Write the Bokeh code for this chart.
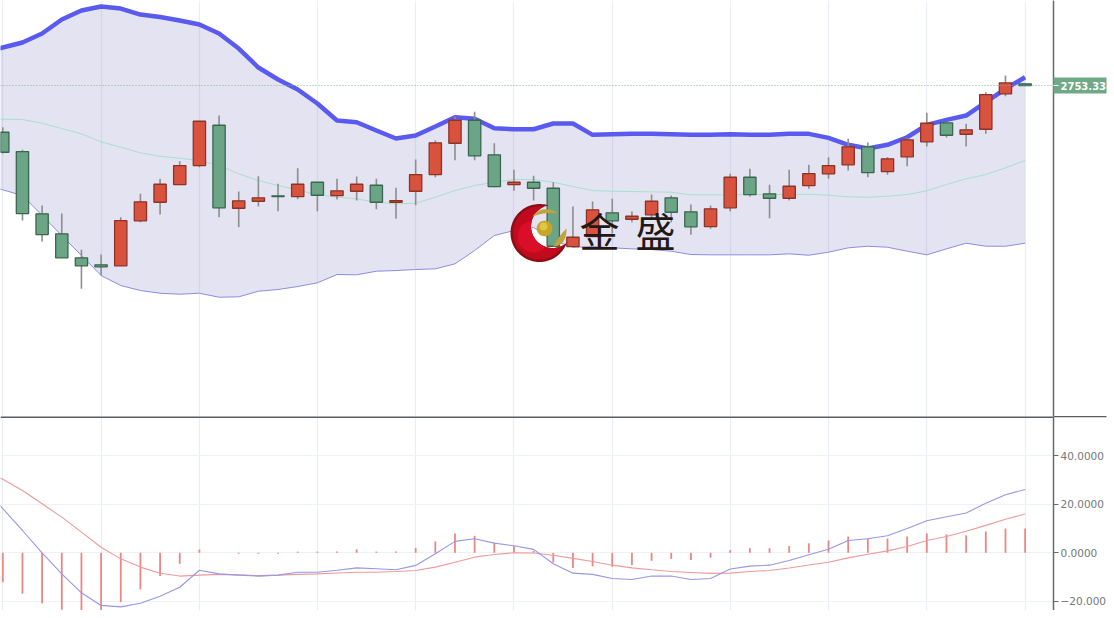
import numpy as np
from bokeh.embed import file_html
from bokeh.resources import INLINE
from bokeh.layouts import column
from bokeh.models import ColumnDataSource, FixedTicker, Grid, Label, Range1d, Span
from bokeh.plotting import figure

opens = [2706.6,2687.3,2625,2605,2581,2574,2573,2618,2636.6,2654.3,2673.3,2713.6,2630.6,2637.6,2643,2642.3,2656.6,2643.3,2647.6,2653.6,2636.6,2647.6,2664.3,2695.6,2718.6,2684,2654.3,2656.6,2650.6,2592.3,2602.3,2626,2619.6,2624,2641,2627,2612.3,2631,2661.6,2645,2640.6,2653.3,2665,2674,2692,2667.3,2682,2697,2716,2704.6,2709.6,2745,2755]
closes = [2686.6,2625.3,2604.3,2581,2573,2572,2618.3,2637,2654.6,2673.3,2717.6,2631,2638,2641,2642.3,2654.6,2643.6,2648,2654.6,2636.6,2638.3,2664.3,2696,2718.6,2683,2652.3,2656.6,2650.6,2592.6,2601.6,2629,2618,2622.6,2637.6,2626.6,2612,2630,2661.6,2644.3,2640.6,2652.6,2665.3,2673.3,2692,2666.3,2680,2699,2715.6,2703.6,2709,2744.3,2756,2753.33]
highs = [2711.6,2689,2633.3,2625.3,2589,2584.3,2621.6,2645,2660,2677.6,2717.6,2723.3,2647.3,2662.6,2655,2670.6,2656.6,2660,2662.3,2660,2651,2679.3,2698.3,2722.3,2727,2695.6,2669,2663,2656.6,2632.3,2637.3,2640,2627.3,2644.3,2643.3,2634.3,2633.3,2665,2670,2654,2669,2674,2681.6,2700,2696.3,2681.6,2701,2726,2717,2715,2746.6,2763.3,2755]
lows = [2685.3,2618.3,2597.3,2581,2550,2563.3,2573,2616.6,2624.3,2654.3,2671.6,2621.6,2611.6,2632.3,2627.6,2639.6,2627.6,2639.3,2638.3,2629.6,2620,2633.6,2661.6,2678.6,2678.6,2651.6,2648,2638.3,2592.6,2591.6,2602.3,2605.3,2616.6,2620,2616.6,2604,2610,2627.6,2642.3,2620.6,2638.3,2650,2660,2668.3,2661.6,2664,2672.6,2692.3,2701.3,2692.3,2705,2742.6,2753.33]
# the line series start one bar before the first candle, which sits at the left edge
band_upper = [2787.3,2791.3,2796.3,2805.3,2819.3,2828.3,2832.3,2830.3,2824.3,2821.8,2818.3,2814.3,2805.3,2790.3,2771.3,2759.3,2749.3,2735.3,2718.3,2716.6,2708.3,2700.3,2703.3,2712.3,2721.6,2720,2710.6,2709.6,2709.6,2715.3,2715.3,2704,2704.6,2705,2705,2704.6,2704,2704,2704.6,2704,2704,2705,2705,2701,2694,2690.3,2694,2701.6,2714,2719,2723.3,2736.6,2750,2761.6]
band_middle = [2719.8,2719.6,2719.3,2715.6,2710.3,2705,2697,2691.6,2686,2682.6,2680.6,2678.3,2673.3,2665,2658.3,2653.3,2649,2644,2641.6,2640,2636.6,2635,2635.6,2641.6,2648.3,2653.3,2656.6,2659.3,2659.3,2656.6,2652.3,2648.3,2647.6,2647.3,2647,2646.6,2644,2644,2644,2644.3,2644.3,2644.3,2644.6,2643.6,2642,2641.6,2642.6,2644.3,2648,2654.3,2660,2664.3,2671,2678.3]
band_lower = [2655,2649,2643.3,2623.3,2603.3,2583.3,2563.3,2553.3,2548.3,2545.6,2544.6,2545.6,2541.6,2542,2547.6,2549.3,2552.3,2556,2564.3,2564,2567.6,2568.3,2569.3,2570,2575,2588.3,2603.3,2608.3,2611.3,2598.3,2591.6,2592.3,2591,2590,2589.3,2587.6,2584.3,2584,2584,2584,2584,2585,2583.6,2586.6,2591,2592.6,2591.6,2587.6,2584,2590,2595.6,2592.6,2592.6,2595.6]
macd_hist = [-12.1,-16.9,-20.8,-23.5,-25.2,-24.8,-20.4,-15.1,-9.6,-4.5,1.4,0,-0.4,-0.4,-0.4,0.5,0.5,0.5,1.4,0.5,0.5,2,4.7,8,7,4.1,2.8,0.8,-4,-6.3,-5.6,-5.8,-5,-3.3,-2.5,-3,-2,1.1,1.9,1.9,2.8,3.9,5.1,6.7,5.9,5.9,6.7,8,7.6,7.2,8.8,10,10]
macd_line = [27.2,18.2,9.2,0,-8.7,-16.5,-21.7,-22.3,-20.8,-17.9,-14.2,-7.2,-8.7,-9.2,-9.6,-9.2,-8,-8,-7.2,-6.2,-6.6,-7,-5.2,-0.4,4.7,5.8,4,2.9,1.4,-4.5,-8.4,-8.9,-10.6,-11,-9.6,-9.6,-11,-10.6,-6.7,-5.5,-5.1,-3.2,-0.8,1.5,5.1,5.8,7,10,13.2,14.9,16.4,20.4,23.9,26.1]
signal_line = [34.6,30.3,25.7,20.2,14.7,8.5,2.3,-2.5,-5.9,-8.4,-9.6,-9.2,-8.9,-9.1,-9.4,-9.2,-8.9,-8.7,-8.3,-8,-8,-7.7,-7.3,-5.9,-3.9,-1.8,-0.7,0,-0.1,-1,-2.3,-3.6,-5.1,-6.2,-7,-7.7,-8.1,-8.5,-8.4,-7.7,-7.3,-6.3,-5,-3.9,-2.1,-0.6,0.8,2.6,5.1,6.7,8.9,11.3,13.8,16]
grid_bars = [0,5,10,16,21,26,31,37,42,47,52]
last_price = 2753.33
macd_ticks = [-20,0,20,40]
macd_tick_labels = {-20:"\u221220.000",0:"0.0000",20:"20.0000",40:"40.0000"}
logo_chars = ["金", "盛"]

RED, RED_EDGE = "#d9523e", "#8c3328"
GREEN, GREEN_EDGE = "#6ba585", "#38664f"
TAG = "#6fa987"
n = len(opens)
idx = list(range(n))
line_idx = [-1] + idx
X0, DX = 2.3, 19.66
PY = 2838.33

x_start, x_end = (0 - X0) / DX, (1053 - X0) / DX

def make_fig(h, y0, y1):
    p = figure(width=1106, height=h, frame_width=1053, frame_height=h,
               x_range=Range1d(x_start, x_end), y_range=Range1d(y0, y1),
               x_axis_location=None, y_axis_location="right",
               output_backend="svg", toolbar_location=None,
               min_border=0, min_border_right=53, outline_line_color=None,
               background_fill_color="white", border_fill_color="white")
    p.grid.visible = False
    p.add_layout(Grid(dimension=0, ticker=FixedTicker(ticks=grid_bars),
                      grid_line_color="#e9eef5", grid_line_width=1.2))
    ax = p.yaxis[0]
    ax.axis_line_color = "#666a70"
    ax.axis_line_width = 1.5
    ax.major_tick_in = 0
    ax.minor_tick_in = 0
    return p

# ---------- price pane
p1 = make_fig(416, PY - 416, PY)
p1.varea(line_idx, band_lower, band_upper, fill_color="#8080c0", fill_alpha=0.22)
p1.line(line_idx, band_middle, line_color="#a9dfcd", line_width=1)
p1.line(line_idx, band_lower, line_color="#8c8ce0", line_width=1)
p1.line(line_idx, band_upper, line_color="#5a5af0", line_width=4.5)
p1.add_layout(Span(location=last_price, dimension="width", line_color="#7fb596",
                   line_width=1, line_dash="1 2"))

def cs(up):
    ii = [i for i in idx if (closes[i] >= opens[i]) == up]
    return ColumnDataSource(dict(
        x=ii, o=[opens[i] for i in ii], c=[closes[i] for i in ii],
        h=[highs[i] for i in ii], l=[lows[i] for i in ii]))

for up, fill, edge in ((True, RED, RED_EDGE), (False, GREEN, GREEN_EDGE)):
    src = cs(up)
    p1.segment("x", "h", "x", "l", source=src, line_color="#8e8e8e", line_width=1.6)
    p1.vbar("x", 0.625, "o", "c", source=src, fill_color=fill, line_color=edge, line_width=1.3)

# watermark logo: position helpers in page pixels
def lx(a): return (np.asarray(a, float) - X0) / DX
def ly(a): return PY - np.asarray(a, float)

def crescent(cx, cy, R, dx, dy, r):
    d = np.hypot(dx - cx, dy - cy)
    di = np.arctan2(dy - cy, dx - cx)
    a = np.arccos((d*d + R*R - r*r) / (2*d*R))
    b = np.arccos((d*d + r*r - R*R) / (2*d*r))
    t1 = np.linspace(di + a, di + 2*np.pi - a, 90)
    t2 = np.linspace(di + np.pi + b, di + np.pi - b, 70)
    return (np.r_[cx + R*np.cos(t1), dx + r*np.cos(t2)],
            np.r_[cy + R*np.sin(t1), dy + r*np.sin(t2)])

def leaf(a, b, c1, c2):
    t = np.linspace(0, 1, 30)
    def q(p, m, e): return (1-t)**2*p + 2*t*(1-t)*m + t*t*e
    xs = np.r_[q(a[0], c1[0], b[0]), q(b[0], c2[0], a[0])]
    ys = np.r_[q(a[1], c1[1], b[1]), q(b[1], c2[1], a[1])]
    return xs, ys

for (R, col) in ((29, "#8f0d17"), (26.5, "#c10a1e")):
    xs, ys = crescent(539, 232.5, R, 552, 226, 21.5)
    p1.patch(lx(xs), ly(ys), fill_color=col, line_color=None)
xs, ys = crescent(533, 236, 16, 552, 226, 21.5)
p1.patch(lx(xs), ly(ys), fill_color="#d80f26", line_color=None)
for a, b, c1, c2 in (((532, 216), (558, 213), (542, 203), (546, 211)),
                     ((553, 246), (566, 228), (566, 245), (558, 236))):
    xs, ys = leaf(a, b, c1, c2)
    p1.patch(lx(xs), ly(ys), fill_color="#c2a33a", line_color=None)
t = np.linspace(0, 2*np.pi, 50)
p1.patch(lx(544 + 7.8*np.cos(t)), ly(228 + 7.8*np.sin(t)), fill_color="#c7a526", line_color=None)
p1.patch(lx(543 + 4*np.cos(t)), ly(226 + 4*np.sin(t)), fill_color="#e0c548", line_color=None)
for ch, sx in zip(logo_chars, (579, 635)):
    p1.add_layout(Label(x=sx, x_units="screen", y=float(ly(258)), y_units="data", text=ch,
                        text_font="Noto Sans CJK SC", text_font_size="40px", text_color="#231815"))

# current price tag: the axis tick is the green tag, its label the price
ax1 = p1.yaxis[0]
ax1.ticker = FixedTicker(ticks=[last_price], minor_ticks=[last_price])
ax1.major_tick_out = 53
ax1.major_tick_line_color = TAG
ax1.major_tick_line_width = 16
ax1.minor_tick_out = 5
ax1.minor_tick_line_color = "white"
ax1.minor_tick_line_width = 1
ax1.major_label_standoff = -46
ax1.major_label_overrides = {last_price: f"{last_price:.2f}"}
ax1.major_label_text_color = "white"
ax1.major_label_text_font = "DejaVu Sans"
ax1.major_label_text_font_style = "bold"
ax1.major_label_text_font_size = "10px"

# ---------- MACD pane
V0, VK = 552.3, 2.425
y_top = (V0 - 416) / VK
p2 = make_fig(194, (V0 - 610) / VK, y_top)
p2.add_layout(Grid(dimension=1, ticker=FixedTicker(ticks=macd_ticks),
                   grid_line_color="#eef2f6", grid_line_width=1.2))
p2.segment(idx, [0]*n, idx, macd_hist, line_color="#ee8585", line_width=1.8)
p2.line(line_idx, signal_line, line_color="#ee9a9a", line_width=1.1)
p2.line(line_idx, macd_line, line_color="#9797e6", line_width=1.1)
ax2 = p2.yaxis[0]
ax2.ticker = FixedTicker(ticks=macd_ticks, minor_ticks=[y_top - 0.2])
ax2.major_tick_out = 5
ax2.major_tick_line_color = "#666a70"
ax2.minor_tick_out = 53
ax2.minor_tick_line_color = "#5a5d62"
ax2.minor_tick_line_width = 1.5
ax2.major_label_standoff = -46
ax2.major_label_overrides = macd_tick_labels
ax2.major_label_text_color = "#777777"
ax2.major_label_text_font = "DejaVu Sans"
ax2.major_label_text_font_size = "10.5px"
# pane separator across the frame
p2.add_layout(Span(location=y_top, dimension="width", line_color="#5a5d62", line_width=3))

page = column(p1, p2, spacing=0)
open("out.html", "w").write(file_html(page, INLINE))
